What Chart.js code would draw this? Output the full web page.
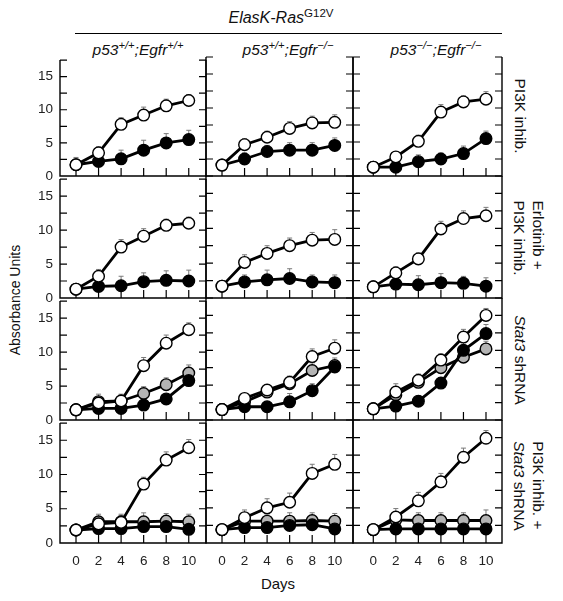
<!DOCTYPE html>
<html><head><meta charset="utf-8">
<script src="https://cdn.jsdelivr.net/npm/chart.js@4.4.0/dist/chart.umd.min.js"></script>
<style>
html,body{margin:0;padding:0;background:#fff;}
body{width:563px;height:601px;position:relative;overflow:hidden;font-family:"Liberation Sans",Arial,Helvetica,sans-serif;color:#111;}
canvas{position:absolute;}
.t{position:absolute;white-space:nowrap;transform:translate(-50%,-50%);line-height:1.15;}
.v{position:absolute;white-space:nowrap;writing-mode:vertical-rl;transform:translate(-50%,-50%);line-height:1.2;font-size:15.5px;}
sup{font-size:0.72em;vertical-align:0;position:relative;top:-0.55em;}
</style></head><body>
<div class="t" style="left:281px;top:18px;font-size:16px;"><i>ElasK-Ras</i><sup>G12V</sup></div>
<div style="position:absolute;left:75px;top:33px;width:427px;height:1.4px;background:#000;"></div>
<div class="t" style="left:138px;top:50px;font-size:15.5px;"><i>p53<sup>+/+</sup>;Egfr<sup>+/+</sup></i></div>
<div class="t" style="left:288px;top:50px;font-size:15.5px;"><i>p53<sup>+/+</sup>;Egfr<sup>−/−</sup></i></div>
<div class="t" style="left:436px;top:50px;font-size:15.5px;"><i>p53<sup>−/−</sup>;Egfr<sup>−/−</sup></i></div>
<div class="t" style="left:15px;top:300px;font-size:14px;transform:translate(-50%,-50%) rotate(-90deg);">Absorbance Units</div>
<div class="v" style="left:520px;top:116px;">PI3K inhib.</div>
<div class="v" style="left:528px;top:238px;">Erlotinib +<br>PI3K inhib.</div>
<div class="v" style="left:520px;top:360px;"><i>Stat3</i> shRNA</div>
<div class="v" style="left:528px;top:486px;">PI3K inhib. +<br><i>Stat3</i> shRNA</div>
<div class="t" style="left:278px;top:584px;font-size:15px;">Days</div>
<script>
// ---- data ----
const days = [0, 2, 4, 6, 8, 10];
const xTickValues = [0, 2, 4, 6, 8, 10];
const yTickValues = [0, 2.5, 5, 7.5, 10, 12.5, 15, 17.5];
const yLabelValues = [0, 5, 10, 15];
const genotypes = ['p53+/+;Egfr+/+', 'p53+/+;Egfr-/-', 'p53-/-;Egfr-/-'];
const treatments = ['PI3K inhib.', 'Erlotinib + PI3K inhib.', 'Stat3 shRNA', 'PI3K inhib. + Stat3 shRNA'];

// Row 1: PI3K inhib. (one array per genotype column)
const pi3kOpen = [[1.7, 3.5, 7.8, 9.2, 10.6, 11.4], [1.6, 4.6, 5.7, 7.0, 7.8, 7.9], [1.3, 2.8, 5.1, 9.4, 10.9, 11.3]];
const pi3kOpenErr = [[1.1, 0.9, 1.0, 1.2, 1.0, 0.9], [0.5, 0.9, 0.9, 1.0, 1.0, 1.1], [0.8, 0.8, 0.9, 1.1, 0.9, 1.1]];
const pi3kFilled = [[1.7, 2.2, 2.6, 3.9, 5.0, 5.5], [1.6, 2.5, 3.6, 3.8, 3.8, 4.5], [1.3, 1.3, 2.1, 2.5, 3.3, 5.5]];
const pi3kFilledErr = [[0.8, 0.9, 1.3, 1.5, 1.4, 1.4], [0.5, 0.9, 0.9, 1.1, 1.1, 1.1], [0.6, 0.8, 1.0, 0.9, 1.1, 1.1]];

// Row 2: Erlotinib + PI3K inhib.
const erlOpen = [[1.3, 3.2, 7.5, 9.1, 10.7, 11.0], [1.7, 5.1, 6.4, 7.5, 8.3, 8.4], [1.6, 3.6, 5.6, 9.9, 11.4, 11.8]];
const erlOpenErr = [[0.5, 1.0, 1.1, 1.1, 0.9, 0.9], [0.5, 1.1, 1.1, 1.1, 1.1, 1.4], [0.5, 0.9, 0.9, 1.1, 1.1, 1.2]];
const erlFilled = [[1.3, 1.7, 1.8, 2.4, 2.6, 2.5], [1.7, 2.3, 2.6, 2.8, 2.3, 2.2], [1.6, 2.0, 1.9, 2.2, 2.1, 1.7]];
const erlFilledErr = [[0.5, 1.0, 1.4, 1.3, 1.4, 1.6], [0.5, 1.0, 1.4, 1.4, 1.0, 1.1], [0.5, 1.0, 1.3, 1.3, 1.0, 1.2]];

// Row 3: Stat3 shRNA
const stat3Open = [[1.5, 2.5, 2.8, 8.0, 11.3, 13.3], [1.5, 3.1, 4.3, 5.4, 9.1, 10.3], [1.6, 4.0, 5.7, 8.6, 11.9, 15.0]];
const stat3OpenErr = [[0.5, 0.8, 0.9, 1.2, 1.2, 1.0], [0.5, 0.5, 0.5, 0.8, 1.1, 1.2], [0.5, 1.2, 0.9, 0.9, 1.1, 1.0]];
const stat3Gray = [[1.5, 2.7, 2.8, 3.9, 5.2, 6.9], [1.5, 2.6, 4.0, 5.2, 7.1, 7.8], [1.6, 3.6, 5.4, 7.5, 9.0, 10.2]];
const stat3GrayErr = [[0.5, 1.1, 1.0, 1.0, 1.0, 1.2], [0.5, 0.9, 1.0, 1.1, 1.1, 1.1], [0.5, 0.9, 1.0, 1.0, 1.0, 1.1]];
const stat3Filled = [[1.5, 1.7, 1.7, 2.2, 3.1, 5.8], [1.5, 1.9, 1.9, 2.6, 4.2, 7.6], [1.6, 2.0, 2.7, 5.3, 10.0, 12.4]];
const stat3FilledErr = [[0.5, 0.6, 0.6, 0.6, 0.7, 0.9], [0.5, 0.5, 0.5, 1.2, 1.0, 0.8], [0.5, 0.7, 0.8, 0.8, 1.1, 1.3]];

// Row 4: PI3K inhib. + Stat3 shRNA
const comboOpen = [[1.9, 2.8, 3.0, 8.6, 12.1, 13.9], [1.9, 3.6, 5.0, 5.8, 9.9, 11.2], [1.9, 3.7, 6.0, 8.7, 12.2, 14.9]];
const comboOpenErr = [[0.5, 1.0, 1.0, 1.0, 1.2, 1.2], [0.5, 1.1, 1.3, 1.3, 1.3, 1.4], [0.5, 1.2, 1.2, 1.2, 1.3, 1.1]];
const comboGray = [[1.9, 3.1, 3.1, 3.1, 3.2, 3.1], [1.9, 3.1, 3.1, 3.1, 3.2, 3.1], [1.9, 3.3, 3.2, 3.2, 3.2, 3.2]];
const comboGrayErr = [[0.5, 1.1, 1.1, 1.3, 1.1, 1.1], [0.5, 1.0, 0.9, 1.2, 1.1, 1.1], [0.5, 1.1, 1.1, 1.1, 1.1, 1.5]];
const comboFilled = [[1.9, 2.1, 2.1, 2.4, 2.4, 2.0], [1.9, 2.2, 2.2, 2.5, 2.6, 2.0], [1.9, 2.0, 2.0, 2.0, 2.0, 2.0]];
const comboFilledErr = [[0.5, 0.8, 0.8, 0.8, 0.8, 0.8], [0.5, 0.6, 0.6, 0.6, 0.6, 0.6], [0.5, 0.5, 0.5, 0.5, 0.5, 0.5]];

// ---- layout (styling only) ----
const colLeft = [60, 206, 353], colW = [146, 147, 149];
const rowTop = [57, 176, 298, 420], rowH = [119, 122, 122, 123];
const xMin = [-1.42, -1.42, -1.8], xMax = [11.53, 11.62, 11.42];
const L = 60, T = 12, R = 12, B = 48;
const FONT = "'Liberation Sans', Arial, Helvetica, sans-serif";

const rows = [
  { open: pi3kOpen, openErr: pi3kOpenErr, filled: pi3kFilled, filledErr: pi3kFilledErr },
  { open: erlOpen, openErr: erlOpenErr, filled: erlFilled, filledErr: erlFilledErr },
  { open: stat3Open, openErr: stat3OpenErr, gray: stat3Gray, grayErr: stat3GrayErr, filled: stat3Filled, filledErr: stat3FilledErr },
  { open: comboOpen, openErr: comboOpenErr, gray: comboGray, grayErr: comboGrayErr, filled: comboFilled, filledErr: comboFilledErr }
];

const panelPlugin = {
  id: 'panelFrame',
  beforeDatasetsDraw(chart) {
    const { ctx, chartArea: a, scales: { x, y } } = chart;
    ctx.save();
    ctx.strokeStyle = '#000'; ctx.lineWidth = 1.4; ctx.lineCap = 'butt';
    ctx.beginPath();
    ctx.moveTo(a.left, a.top); ctx.lineTo(a.left, a.bottom); ctx.lineTo(a.right, a.bottom); ctx.lineTo(a.right, a.top);
    ctx.stroke();
    ctx.lineWidth = 1.2;
    ctx.beginPath();
    yTickValues.forEach(v => {
      if (v === 0) return;
      const py = y.getPixelForValue(v);
      ctx.moveTo(a.left, py); ctx.lineTo(a.left + 7, py);
      ctx.moveTo(a.right, py); ctx.lineTo(a.right - 7, py);
    });
    xTickValues.forEach(v => {
      const px = x.getPixelForValue(v);
      ctx.moveTo(px, a.bottom); ctx.lineTo(px, a.bottom - 8);
    });
    ctx.stroke();
    ctx.strokeStyle = '#7a7a7a'; ctx.lineWidth = 1;
    ctx.beginPath();
    chart.data.datasets.forEach(ds => {
      ds.data.forEach((p, i) => {
        const px = x.getPixelForValue(p.x);
        const py = y.getPixelForValue(p.y);
        const pt = y.getPixelForValue(p.y + ds.err[i]);
        ctx.moveTo(px, py); ctx.lineTo(px, pt);
        ctx.moveTo(px - 2.5, pt); ctx.lineTo(px + 2.5, pt);
      });
    });
    ctx.stroke();
    ctx.restore();
  }
};

function makeSet(label, vals, errs, fill, order) {
  return {
    label, order, err: errs,
    data: vals.map((v, i) => ({ x: days[i], y: v })),
    borderColor: '#000', borderWidth: 2.8, backgroundColor: fill,
    pointBackgroundColor: fill, pointBorderColor: '#000', pointBorderWidth: 1.4,
    pointRadius: 5.8, tension: 0, clip: false
  };
}

rows.forEach((row, r) => {
  for (let c = 0; c < 3; c++) {
    const cv = document.createElement('canvas');
    const w = L + colW[c] + R, h = T + rowH[r] + B;
    cv.width = w; cv.height = h;
    cv.style.width = w + 'px'; cv.style.height = h + 'px';
    cv.style.left = (colLeft[c] - L) + 'px';
    cv.style.top = (rowTop[r] - T) + 'px';
    document.body.appendChild(cv);
    const datasets = [makeSet(treatments[r] + ' open', row.open[c], row.openErr[c], '#ffffff', 1)];
    if (row.gray) datasets.push(makeSet(treatments[r] + ' gray', row.gray[c], row.grayErr[c], '#b4b4b4', 3));
    datasets.push(makeSet(treatments[r] + ' filled', row.filled[c], row.filledErr[c], '#000000', 2));
    new Chart(cv, {
      type: 'line',
      data: { datasets },
      plugins: [panelPlugin],
      options: {
        responsive: false, animation: false, events: [],
        layout: { padding: { top: T, right: R, left: 0, bottom: 0 } },
        plugins: { legend: { display: false }, tooltip: { enabled: false }, title: { display: false } },
        scales: {
          x: {
            type: 'linear', min: xMin[c], max: xMax[c],
            grid: { display: false, drawTicks: false }, border: { display: false },
            afterBuildTicks: s => { s.ticks = xTickValues.map(v => ({ value: v })); },
            afterFit: s => { s.height = B; },
            ticks: { display: r === 3, padding: 10, autoSkip: false, maxRotation: 0, color: '#222', font: { family: FONT, size: 13.5 } }
          },
          y: {
            type: 'linear', min: 0, max: 17.5,
            grid: { display: false, drawTicks: false }, border: { display: false },
            afterBuildTicks: s => { s.ticks = yTickValues.map(v => ({ value: v })); },
            afterFit: s => { s.width = L; },
            ticks: { display: c === 0, padding: 7, autoSkip: false, color: '#222', font: { family: FONT, size: 13.5 },
              callback: v => yLabelValues.includes(v) ? String(v) : '' }
          }
        }
      }
    });
  }
});
</script>
</body></html>
